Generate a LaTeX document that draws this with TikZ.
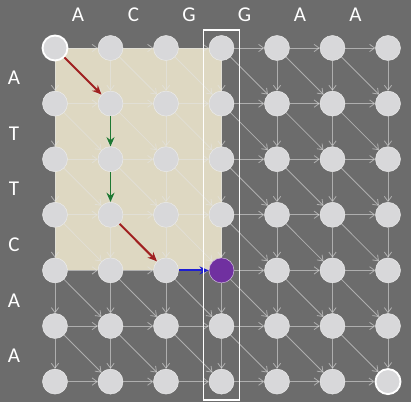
\documentclass[tikz,border=0pt]{standalone}
\usepackage{fontspec}
\setmainfont{Carlito}
\usetikzlibrary{arrows.meta,fit}
\definecolor{bggray}{RGB}{108,108,108}
\definecolor{cellfill}{RGB}{216,216,218}
\definecolor{beige}{RGB}{222,216,194}
\definecolor{pathred}{RGB}{160,32,32}
\definecolor{pathgreen}{RGB}{30,120,50}
\definecolor{pathblue}{RGB}{30,30,210}
\definecolor{endpurple}{RGB}{112,48,160}
\pgfdeclarelayer{background}
\pgfsetlayers{background,main}

\begin{document}
\begin{tikzpicture}[x=0.03cm,y=-0.03cm,
  cell/.style={circle,draw=white!85!gray,fill=cellfill,minimum size=0.75cm,
               inner sep=0pt,line width=0.4pt},
  cell 0-0/.style={draw=white,line width=1.6pt},
  cell 6-6/.style={draw=white,line width=1.6pt},
  cell 3-4/.style={fill=endpurple,draw=white!70!endpurple},
  edge/.style={-{Straight Barb[length=1.5mm,width=2.2mm]},draw=white!80!gray,
               draw opacity=0.55,line width=0.7pt},
  hop/.style={-{Stealth[length=2.8mm,width=2.4mm]},line width=1.7pt},
  seq/.style={text=white,font=\fontsize{18}{18}\selectfont}]
% alignment grid
\foreach \i in {0,...,6}
  \foreach \j in {0,...,6}
    \node[cell,cell \i-\j/.try] (c-\i-\j) at (55.5*\i+55,55.6*\j+48) {};
% sequences
\foreach \b [count=\k from 0] in {A,C,G,G,A,A}
  \node[seq] (top-\k) at (55.5*\k+78,15) {\b};
\foreach \b [count=\k from 0] in {A,T,T,C,A,A}
  \node[seq] (left-\k) at (14,55.6*\k+78) {\b};
\begin{pgfonlayer}{background}
  \fill[bggray] (0,0) rectangle (411,402);
  \fill[beige] (c-0-0.center) rectangle (c-3-4.center);
  % right, down and diagonal moves
  \foreach \i in {0,...,5}
    \foreach \j in {0,...,6}{
      \pgfmathtruncatemacro\ia{\i+1}
      \draw[edge] (c-\i-\j) -- (c-\ia-\j);
      \draw[edge] (c-\j-\i) -- (c-\j-\ia);
    }
  \foreach \i in {0,...,5}
    \foreach \j in {0,...,5}{
      \pgfmathtruncatemacro\ia{\i+1}
      \pgfmathtruncatemacro\ja{\j+1}
      \draw[edge] (c-\i-\j) -- (c-\ia-\ja);
    }
\end{pgfonlayer}
% traceback path
\draw[hop,pathred] (c-0-0) -- (c-1-1);
\draw[hop,pathgreen] (c-1-1) -- (c-1-2);
\draw[hop,pathgreen] (c-1-2) -- (c-1-3);
\draw[hop,pathred] (c-1-3) -- (c-2-4);
\draw[hop,pathblue] (c-2-4) -- (c-3-4);
% current column
\node[draw=white,line width=1.5pt,fit=(c-3-0)(c-3-6),inner sep=0.16cm] (col) {};
\end{tikzpicture}
\end{document}
